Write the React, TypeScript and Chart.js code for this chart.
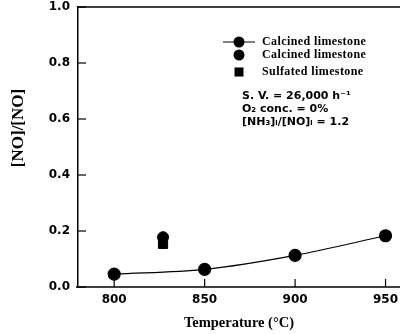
import React, { useEffect, useRef } from "react";
import { Chart, registerables } from "chart.js";

Chart.register(...registerables);

const lineTemps = [800, 850, 900, 950];
const lineRatio = [0.046, 0.063, 0.113, 0.183];
const calcinedTemps = [827];
const calcinedRatio = [0.178];
const sulfatedTemps = [827];
const sulfatedRatio = [0.154];
const xTicks = [800, 850, 900, 950];
const yTicks = [0, 0.2, 0.4, 0.6, 0.8, 1.0];
const legendLabels = ["Calcined limestone", "Calcined limestone", "Sulfated limestone"];
const noteLines = ["S. V. = 26,000 h\u207B\u00B9", "O\u2082 conc. = 0%", "[NH\u2083]\u1D62/[NO]\u1D62 = 1.2"];
const yTitle = "[NO]/[NO]";

const decorPlugin = {
  id: "decor",
  afterDraw(chart: any) {
    const ctx = chart.ctx;
    const ca = chart.chartArea;
    const xs = chart.scales.x;
    const ys = chart.scales.y;
    ctx.save();
    ctx.strokeStyle = "#000";
    ctx.lineWidth = 1.5;
    // top border and x-axis line to canvas edge
    ctx.beginPath();
    ctx.moveTo(ca.left, ca.top);
    ctx.lineTo(chart.width, ca.top);
    ctx.moveTo(ca.left - 2, ca.bottom);
    ctx.lineTo(chart.width, ca.bottom);
    ctx.stroke();
    // inward ticks + x labels
    ctx.lineWidth = 1.2;
    ctx.fillStyle = "#000";
    ctx.font = "bold 12px 'DejaVu Sans', sans-serif";
    ctx.textAlign = "center";
    ctx.textBaseline = "middle";
    xTicks.forEach((t) => {
      const px = xs.getPixelForValue(t);
      ctx.beginPath();
      ctx.moveTo(px, ca.bottom);
      ctx.lineTo(px, ca.bottom - 8);
      ctx.stroke();
      ctx.fillText(String(t), px, ca.bottom + 13);
    });
    yTicks.forEach((t) => {
      const py = ys.getPixelForValue(t);
      ctx.beginPath();
      ctx.moveTo(ca.left, py);
      ctx.lineTo(ca.left + 8, py);
      ctx.stroke();
    });
    // legend
    const lx = 239;
    const rows = [42, 55, 72];
    ctx.lineWidth = 1;
    ctx.beginPath();
    ctx.moveTo(223, rows[0]);
    ctx.lineTo(255, rows[0]);
    ctx.stroke();
    ctx.beginPath();
    ctx.arc(lx, rows[0], 5.5, 0, Math.PI * 2);
    ctx.fill();
    ctx.beginPath();
    ctx.arc(lx, rows[1], 5.5, 0, Math.PI * 2);
    ctx.fill();
    ctx.fillRect(lx - 4.5, rows[2] - 4.5, 9, 9);
    ctx.font = "bold 12px 'Liberation Serif', serif";
    ctx.textAlign = "left";
    (ctx as any).letterSpacing = "0.4px";
    legendLabels.forEach((l, i) => ctx.fillText(l, 262, rows[i]));
    (ctx as any).letterSpacing = "0px";
    // notes
    ctx.font = "bold 11px 'DejaVu Sans', sans-serif";
    const noteRows = [96, 109, 122];
    noteLines.forEach((l, i) => ctx.fillText(l, 242, noteRows[i]));
    // y title
    ctx.translate(19, 128);
    ctx.rotate(-Math.PI / 2);
    ctx.textAlign = "center";
    ctx.font = "bold 17px 'Liberation Serif', serif";
    ctx.fillText(yTitle, 0, 0);
    ctx.restore();
  },
};

export default function App() {
  const ref = useRef<HTMLCanvasElement>(null);
  useEffect(() => {
    if (!ref.current) return;
    const chart = new Chart(ref.current, {
      type: "line",
      data: {
        datasets: [
          {
            data: lineTemps.map((x, i) => ({ x, y: lineRatio[i] })),
            borderColor: "#000",
            backgroundColor: "#000",
            borderWidth: 1.2,
            pointRadius: 6,
            pointBackgroundColor: "#000",
            tension: 0.4,
            cubicInterpolationMode: "monotone",
          },
          {
            data: calcinedTemps.map((x, i) => ({ x, y: calcinedRatio[i] })),
            showLine: false,
            pointRadius: 5.5,
            pointBackgroundColor: "#000",
            borderColor: "#000",
          },
          {
            data: sulfatedTemps.map((x, i) => ({ x, y: sulfatedRatio[i] })),
            showLine: false,
            pointStyle: "rect",
            pointRadius: 6.5,
            pointBackgroundColor: "#000",
            borderColor: "#000",
          },
        ],
      },
      options: {
        animation: false,
        responsive: false,
        clip: false,
        layout: { autoPadding: false, padding: { top: 7, right: 0, left: 0, bottom: 0 } },
        plugins: { legend: { display: false }, tooltip: { enabled: false } },
        scales: {
          x: {
            type: "linear",
            min: 780,
            max: 958,
            afterFit: (s: any) => { s.height = 47; s.paddingLeft = 0; s.paddingRight = 0; },
            afterBuildTicks: (s: any) => { s.ticks = xTicks.map((v) => ({ value: v })); },
            grid: { drawOnChartArea: false, drawTicks: false },
            border: { display: false },
            ticks: { display: false },
            title: {
              display: true,
              text: "Temperature (\u00B0C)",
              color: "#000",
              font: { family: "'Liberation Serif', serif", weight: "bold", size: 14.5 },
              padding: { top: 0, bottom: 2 },
            },
          },
          y: {
            min: 0,
            max: 1,
            afterFit: (s: any) => { s.width = 78; s.paddingTop = 0; s.paddingBottom = 0; },
            afterBuildTicks: (s: any) => { s.ticks = yTicks.map((v) => ({ value: v })); },
            grid: { drawOnChartArea: false, drawTicks: false },
            border: { display: true, color: "#000", width: 1.5 },
            ticks: {
              padding: 8,
              color: "#000",
              font: { family: "'DejaVu Sans', sans-serif", weight: "bold", size: 12 },
              callback: (v: any) => Number(v).toFixed(1),
            },
          },
        },
      },
      plugins: [decorPlugin],
    } as any);
    return () => chart.destroy();
  }, []);
  return (
    <div style={{ position: "fixed", left: 0, top: 0, width: 400, height: 334, background: "#fff" }}>
      <canvas ref={ref} width={400} height={334} />
    </div>
  );
}
